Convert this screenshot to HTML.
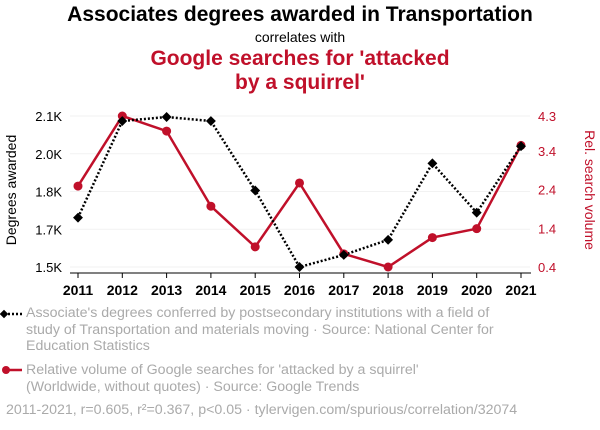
<!DOCTYPE html>
<html><head><meta charset="utf-8"><style>
body{margin:0;background:#fff;font-family:"Liberation Sans",sans-serif;}
#wrap{position:relative;width:600px;height:430px;overflow:hidden;}
.t{position:absolute;left:0;width:600px;text-align:center;}
.leg{position:absolute;left:26px;font-size:14.2px;color:#aaa;line-height:16.7px;}
</style></head><body>
<div id="wrap">
<div class="t" style="top:3px;font-size:21px;font-weight:bold;color:#000">Associates degrees awarded in Transportation</div>
<div class="t" style="top:29px;font-size:14px;color:#000">correlates with</div>
<div class="t" style="top:47px;font-size:21px;font-weight:bold;color:#c0102a;line-height:24px">Google searches for 'attacked<br>by a squirrel'</div>
<svg id="svg" width="600" height="300" style="position:absolute;left:0;top:0"></svg>
<div class="leg" style="top:305px">Associate's degrees conferred by postsecondary institutions with a field of<br>study of Transportation and materials moving · Source: National Center for<br>Education Statistics</div>
<div class="leg" style="top:362px">Relative volume of Google searches for 'attacked by a squirrel'<br>(Worldwide, without quotes) · Source: Google Trends</div>
<div class="leg" style="left:6px;top:402px">2011-2021, r=0.605, r²=0.367, p&lt;0.05 · tylervigen.com/spurious/correlation/32074</div>
<svg width="600" height="430" style="position:absolute;left:0;top:0">
<line x1="4" y1="314" x2="22" y2="314" stroke="#000" stroke-width="2.5" stroke-dasharray="2,2"/>
<rect x="1" y="311" width="6" height="6" transform="rotate(45 4 314)" fill="#000"/>
<line x1="4" y1="370" x2="22" y2="370" stroke="#c0102a" stroke-width="2.5"/>
<circle cx="6" cy="370" r="4" fill="#c0102a"/>
</svg>
</div>
<script>
const years=[2011,2012,2013,2014,2015,2016,2017,2018,2019,2020,2021];
const degrees=[1696,2080,2096,2080,1804,1500,1548,1608,1912,1716,1980];
const searches=[2.49,4.3,3.91,1.97,0.92,2.57,0.74,0.4,1.16,1.39,3.54];
const leftTicks=[1500,1650,1800,1950,2100];
const leftLabels=['1.5K','1.7K','1.8K','2.0K','2.1K'];
const rightTicks=[0.4,1.4,2.4,3.4,4.3];
const rightLabels=['0.4','1.4','2.4','3.4','4.3'];
const NS='http://www.w3.org/2000/svg',svg=document.getElementById('svg');
const x=y=>78+(y-2011)*(521-78)/10;
const yl=v=>267-(v-1500)*(267-116)/600;
const yr=v=>267-(v-0.4)*(267-116)/3.9;
function mk(t,a,p){const e=document.createElementNS(NS,t);for(const k in a)e.setAttribute(k,a[k]);(p||svg).appendChild(e);return e;}
leftTicks.forEach((v,i)=>{
 const g=mk('line',{x1:70,x2:530,y1:yl(v),y2:yl(v),stroke:'#f2f2f2'});
 
 
 const t=mk('text',{x:62,y:yl(v)+5,'text-anchor':'end','font-size':13,fill:'#000'});t.textContent=leftLabels[i];
 
 
});
rightTicks.forEach((v,i)=>{
 const t=mk('text',{x:538,y:yr(v)+5,'font-size':13,fill:'#c0102a'});t.textContent=rightLabels[i];
 
 
});
const ax=mk('line',{x1:70,x2:531,y1:273,y2:273,stroke:'#000'});


years.forEach(yv=>{
 mk('line',{x1:x(yv),x2:x(yv),y1:273,y2:278,stroke:'#000'});
 const t=mk('text',{x:x(yv),y:295,'text-anchor':'middle','font-size':14,'font-weight':'bold',fill:'#000'});t.textContent=yv;
 
 
});
let a=mk('text',{transform:'translate(16,190) rotate(-90)','text-anchor':'middle','font-size':14,fill:'#000'});a.textContent='Degrees awarded';


a=mk('text',{transform:'translate(585,190) rotate(90)','text-anchor':'middle','font-size':14,fill:'#c0102a'});a.textContent='Rel. search volume';


const rl=mk('polyline',{points:years.map((yv,i)=>x(yv)+','+yr(searches[i])).join(' '),fill:'none',stroke:'#c0102a','stroke-width':2.5});


const bl=mk('polyline',{points:years.map((yv,i)=>x(yv)+','+yl(degrees[i])).join(' '),fill:'none',stroke:'#000','stroke-width':2.5,'stroke-dasharray':'2,2'});


years.forEach((yv,i)=>{
 const c=mk('circle',{cx:x(yv),cy:yr(searches[i]),r:4.5,fill:'#c0102a'});
 
 
 const cx=x(yv),cy=yl(degrees[i]);
 const r=mk('rect',{x:cx-3.5,y:cy-3.5,width:7,height:7,fill:'#000',transform:`rotate(45 ${cx} ${cy})`});
 
 
});
</script>
</body></html>
